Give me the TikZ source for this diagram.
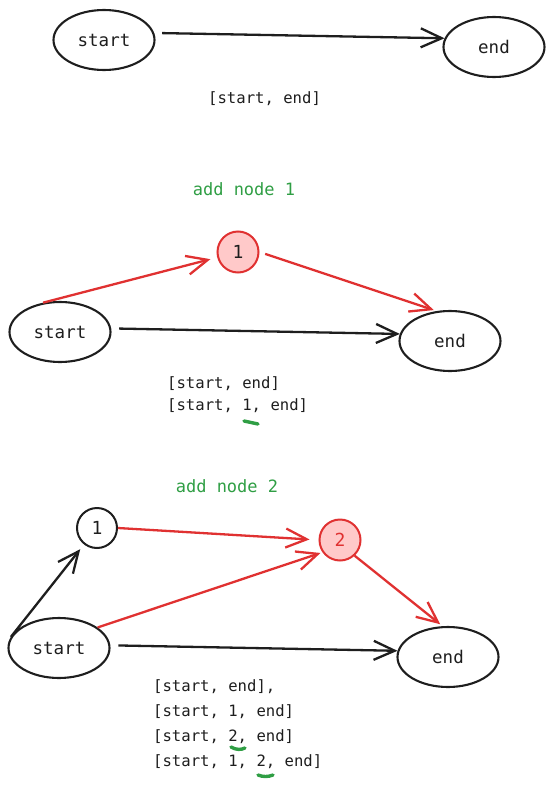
\documentclass[tikz,border=0pt]{standalone}
\usepackage{fontspec}
\setmainfont{DejaVu Sans Mono}
\usetikzlibrary{shapes.geometric,arrows.meta}
\definecolor{redstroke}{HTML}{E03131}
\definecolor{redfill}{HTML}{FFC9C9}
\definecolor{greentext}{HTML}{2F9E44}
\definecolor{ink}{HTML}{1E1E1E}

\begin{document}
\begin{tikzpicture}[x=1pt, y=-1pt]
  \useasboundingbox (0,0) rectangle (553,787);
  \tikzstyle{state} = [draw=ink, line width=2.1pt, ellipse, minimum width=101pt, minimum height=60pt, inner sep=0pt, text=ink, font=\fontsize{17.5}{20}\selectfont]
  \tikzstyle{newnode} = [draw=redstroke, fill=redfill, line width=2pt, circle, minimum size=41pt, inner sep=0pt, text=ink, font=\fontsize{18}{20}\selectfont]
  \tikzstyle{oldnode} = [draw=ink, line width=2pt, circle, minimum size=40pt, inner sep=0pt, text=ink, font=\fontsize{18}{20}\selectfont]
  \tikzstyle{trace} = [anchor=base west, inner sep=0pt, text=ink, font=\fontsize{15.6}{18}\selectfont]
  \tikzstyle{caption} = [anchor=base, inner sep=0pt, text=greentext, font=\fontsize{17}{20}\selectfont]
  \tikzstyle{line} = [draw=ink, line width=2.3pt, -{Straight Barb[length=21pt, width=19pt]}]
  \tikzstyle{redline} = [line, draw=redstroke]
  \tikzstyle{hilite} = [draw=greentext, line width=3.4pt, line cap=round]

  \node[state] (s1) at (104,40) {start};
  \node[state] (e1) at (494,47) {end};
  \path [line, shorten <=8pt] (s1.8) -- (e1.170);
  \node[trace] (l1) at (208,103) {[start, end]};

  \node[caption] (h1) at (244,195) {add node 1};
  \node[newnode] (n1) at (238,252) {1};
  \node[state] (s2) at (60,332) {start};
  \node[state] (e2) at (450,341) {end};
  \path [redline, shorten >=7pt] (s2.120) -- (n1);
  \path [redline, shorten <=6pt, shorten >=3pt] (n1.east) -- (e2.114);
  \path [line, shorten <=8pt] (s2.4) -- (e2.172);
  \node[trace] (l2) at (167,388) {[start, end]};
  \node[trace] (l3) at (167,410) {[start, 1, end]};
  \draw[hilite] (244,421) -- (258,424);

  \node[caption] (h2) at (227,492) {add node 2};
  \node[oldnode] (m1) at (97,528) {1};
  \node[newnode, text=redstroke] (n2) at (340,540) {2};
  \node[state] (s3) at (59,648) {start};
  \node[state] (e3) at (448,657) {end};
  \path [line, shorten >=6pt] (s3.167) -- (m1);
  \path [redline, shorten >=9pt] (m1.east) -- (n2.west);
  \path [redline, shorten >=2pt] (s3.28) -- (n2.215);
  \path [redline, shorten >=3pt] (n2.-47) -- (e3.100);
  \path [line, shorten <=8pt] (s3.3) -- (e3.173);
  \node[trace] (l4) at (153,691) {[start, end],};
  \node[trace] (l5) at (153,716) {[start, 1, end]};
  \node[trace] (l6) at (153,741) {[start, 2, end]};
  \node[trace] (l7) at (153,766) {[start, 1, 2, end]};
  \draw[hilite] (231,747) .. controls (236,750) and (241,750) .. (245,748);
  \draw[hilite] (258,775) .. controls (263,777) and (268,777) .. (273,775);

\end{tikzpicture}
\end{document}
